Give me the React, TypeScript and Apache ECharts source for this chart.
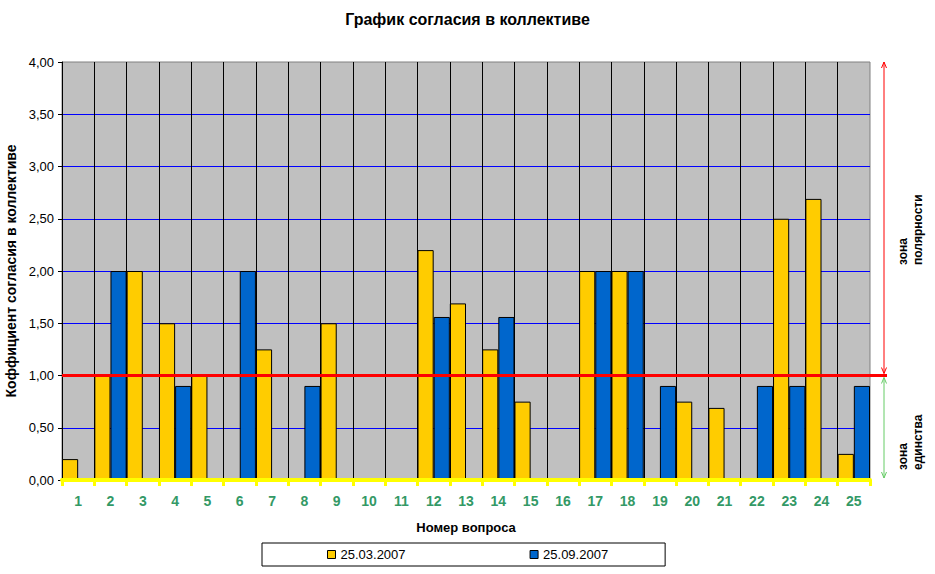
import React, { useEffect, useRef } from "react";
import * as echarts from "echarts";

const categories = ["1","2","3","4","5","6","7","8","9","10","11","12","13","14","15","16","17","18","19","20","21","22","23","24","25"];
const seriesNames = ["25.03.2007", "25.09.2007"];
const march = [0.2, 1.0, 2.0, 1.5, 1.0, 0, 1.25, 0, 1.5, 0, 0, 2.2, 1.69, 1.25, 0.75, 0, 2.0, 2.0, 0, 0.75, 0.69, 0, 2.5, 2.69, 0.25];
const september = [0, 2.0, 0, 0.9, 0, 2.0, 0, 0.9, 0, 0, 0, 1.56, 0, 1.56, 0, 0, 2.0, 2.0, 0.9, 0, 0, 0.9, 0.9, 0, 0.9];
const threshold = 1.0;
const yMin = 0;
const yMax = 4;
const yStep = 0.5;
const titleText = "График согласия в коллективе";
const yName = "Коффициент согласия в коллективе";
const xName = "Номер вопроса";
const zoneTop = "зона\nполярности";
const zoneBottom = "зона\nединства";

const FONT = "'Liberation Sans', Arial, sans-serif";

export default function App() {
  const ref = useRef<HTMLDivElement>(null);
  useEffect(() => {
    document.body.style.margin = "0";
    if (!ref.current) return;
    const chart = echarts.init(ref.current, null, { renderer: "svg" });
    const option: any = {
      animation: false,
      backgroundColor: "#ffffff",
      textStyle: { fontFamily: FONT },
      title: {
        text: titleText,
        left: "center",
        top: 6,
        textStyle: { fontFamily: FONT, fontSize: 16, fontWeight: "bold", color: "#000" },
      },
      grid: {
        left: 62,
        top: 62,
        right: 65,
        bottom: 94,
        outerBoundsMode: "none",
        containLabel: false,
        show: true,
        backgroundColor: "#c0c0c0",
        borderColor: "#808080",
        borderWidth: 1,
      },
      legend: {
        data: seriesNames,
        left: 262,
        top: 543,
        orient: "horizontal",
        borderColor: "#000",
        borderWidth: 1,
        padding: [5, 57, 5, 65],
        itemGap: 124,
        itemWidth: 8,
        itemHeight: 8,
        icon: "rect",
        itemStyle: { borderColor: "#000", borderWidth: 1 },
        textStyle: { fontFamily: FONT, fontSize: 13, color: "#000" },
      },
      xAxis: {
        type: "category",
        data: categories,
        boundaryGap: true,
        z: 3,
        name: xName,
        nameLocation: "middle",
        nameGap: 41,
        nameTextStyle: { fontFamily: FONT, fontSize: 13, fontWeight: "bold", color: "#000" },
        axisLine: { show: true, lineStyle: { color: "#ffff00", width: 4 } },
        axisTick: { show: true, alignWithLabel: false, length: 6, lineStyle: { color: "#ffff00", width: 3 } },
        axisLabel: { color: "#339966", fontSize: 14, fontWeight: "bold", margin: 14, fontFamily: FONT },
        splitLine: { show: true, showMinLine: false, showMaxLine: false, lineStyle: { color: "#000", width: 1 } },
      },
      yAxis: {
        type: "value",
        min: yMin,
        max: yMax,
        interval: yStep,
        name: yName,
        nameLocation: "middle",
        nameGap: 43,
        nameTextStyle: { fontFamily: FONT, fontSize: 14, fontWeight: "bold", color: "#000" },
        axisLine: { show: true, lineStyle: { color: "#000", width: 1 } },
        axisTick: { show: true, length: 4, lineStyle: { color: "#000" } },
        axisLabel: {
          color: "#000",
          fontSize: 13,
          margin: 8,
          fontFamily: FONT,
          formatter: (v: number) => v.toFixed(2).replace(".", ","),
        },
        splitLine: { show: true, showMinLine: false, showMaxLine: false, lineStyle: { color: "#0000ff", width: 1 } },
      },
      series: [
        {
          name: seriesNames[0],
          type: "bar",
          data: march,
          barGap: "0%",
          barCategoryGap: "0%",
          itemStyle: { color: "#ffcc00", borderColor: "#000", borderWidth: 1 },
          markLine: {
            silent: true,
            symbol: "none",
            label: { show: false },
            lineStyle: { color: "#ff0000", width: 3, type: "solid" },
            data: [{ yAxis: threshold }],
          },
        },
        {
          name: seriesNames[1],
          type: "bar",
          data: september,
          barGap: "0%",
          barCategoryGap: "0%",
          itemStyle: { color: "#0066cc", borderColor: "#000", borderWidth: 1 },
        },
      ],
    };
    chart.setOption(option);

    const yTop = chart.convertToPixel({ yAxisIndex: 0 }, yMax) as number;
    const yOne = chart.convertToPixel({ yAxisIndex: 0 }, threshold) as number;
    const yZero = chart.convertToPixel({ yAxisIndex: 0 }, yMin) as number;
    const xRight = 870;
    const ax = 884;
    const red = "#ff0000";
    const green = "#66cc66";
    const zoneFont = `bold 12px ${FONT}`;
    chart.setOption({
      graphic: [
        { type: "line", shape: { x1: xRight, y1: yOne, x2: 887, y2: yOne }, style: { stroke: red, lineWidth: 3 }, z: 10 },
        { type: "line", shape: { x1: ax, y1: yTop, x2: ax, y2: yOne - 2 }, style: { stroke: red, lineWidth: 1 } },
        { type: "polyline", shape: { points: [[ax - 2.5, yTop + 6], [ax, yTop], [ax + 2.5, yTop + 6]] }, style: { stroke: red, lineWidth: 1, fill: "none" } },
        { type: "polyline", shape: { points: [[ax - 2.5, yOne - 8], [ax, yOne - 2], [ax + 2.5, yOne - 8]] }, style: { stroke: red, lineWidth: 1, fill: "none" } },
        { type: "line", shape: { x1: ax, y1: yOne + 2, x2: ax, y2: yZero - 2 }, style: { stroke: green, lineWidth: 1 } },
        { type: "polyline", shape: { points: [[ax - 2.5, yOne + 8], [ax, yOne + 2], [ax + 2.5, yOne + 8]] }, style: { stroke: green, lineWidth: 1, fill: "none" } },
        { type: "polyline", shape: { points: [[ax - 2.5, yZero - 8], [ax, yZero - 2], [ax + 2.5, yZero - 8]] }, style: { stroke: green, lineWidth: 1, fill: "none" } },
        {
          type: "text",
          x: 895,
          y: 265,
          rotation: Math.PI / 2,
          style: { text: zoneTop, font: zoneFont, fill: "#000", align: "left", verticalAlign: "top", lineHeight: 15 },
        },
        {
          type: "text",
          x: 895,
          y: 470,
          rotation: Math.PI / 2,
          style: { text: zoneBottom, font: zoneFont, fill: "#000", align: "left", verticalAlign: "top", lineHeight: 15 },
        },
      ],
    });
    return () => chart.dispose();
  }, []);
  return <div ref={ref} style={{ width: 935, height: 574 }} />;
}
